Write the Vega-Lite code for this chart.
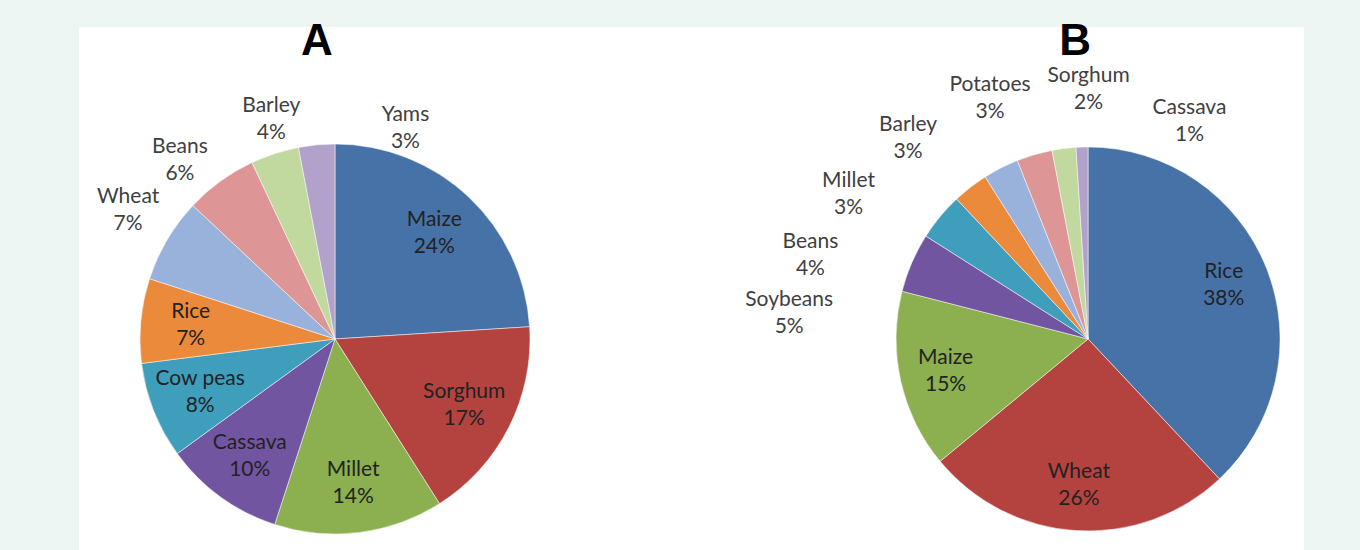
{
  "$schema": "https://vega.github.io/schema/vega-lite/v6.json",
  "padding": {"left": 79, "top": 19, "right": 56, "bottom": 0},
  "background": "#EDF6F2",
  "config": {"view": {"fill": "#FFFFFF", "stroke": null}, "text": {"font": "Lato"}},
  "data": {
    "values": [
      {"chart": "A", "crop": "Maize", "share": 0.24},
      {"chart": "A", "crop": "Sorghum", "share": 0.17},
      {"chart": "A", "crop": "Millet", "share": 0.14},
      {"chart": "A", "crop": "Cassava", "share": 0.10},
      {"chart": "A", "crop": "Cow peas", "share": 0.08},
      {"chart": "A", "crop": "Rice", "share": 0.07},
      {"chart": "A", "crop": "Wheat", "share": 0.07},
      {"chart": "A", "crop": "Beans", "share": 0.06},
      {"chart": "A", "crop": "Barley", "share": 0.04},
      {"chart": "A", "crop": "Yams", "share": 0.03},
      {"chart": "B", "crop": "Rice", "share": 0.38},
      {"chart": "B", "crop": "Wheat", "share": 0.26},
      {"chart": "B", "crop": "Maize", "share": 0.15},
      {"chart": "B", "crop": "Soybeans", "share": 0.05},
      {"chart": "B", "crop": "Beans", "share": 0.04},
      {"chart": "B", "crop": "Millet", "share": 0.03},
      {"chart": "B", "crop": "Barley", "share": 0.03},
      {"chart": "B", "crop": "Potatoes", "share": 0.03},
      {"chart": "B", "crop": "Sorghum", "share": 0.02},
      {"chart": "B", "crop": "Cassava", "share": 0.01}
    ]
  },
  "transform": [
    {"window": [{"op": "row_number", "as": "idx"}], "groupby": ["chart"]}
  ],
  "spacing": 0,
  "bounds": "flush",
  "hconcat": [
    {
      "width": 512,
      "height": 524,
      "transform": [{"filter": "datum.chart === 'A'"}],
      "encoding": {
        "y": {"datum": "pie", "type": "nominal", "axis": null, "scale": {"type": "point", "align": 0.5954}}
      },
      "layer": [
        {
          "mark": {"type": "arc", "radius": 195, "stroke": "#FFFFFF", "strokeWidth": 0.5},
          "encoding": {
            "theta": {"field": "share", "type": "quantitative", "stack": true, "scale": {"domain": [0, 1]}},
            "order": {"field": "idx", "type": "quantitative"},
            "color": {
              "field": "idx", "type": "ordinal", "legend": null,
              "scale": {"range": ["#4672A8", "#B4423F", "#8CAF4F", "#7255A0", "#3E9EBB", "#EC8A3C", "#98B2DC", "#DD9695", "#C1D89F", "#B2A2CB"]}
            }
          }
        },
        {
          "mark": {"type": "text", "radius": 145, "dy": -13, "fontSize": 21, "fill": "#222222"},
          "encoding": {
            "theta": {"field": "share", "type": "quantitative", "stack": true, "scale": {"domain": [0, 1]}},
            "order": {"field": "idx", "type": "quantitative"},
            "detail": {"field": "idx", "type": "ordinal"},
            "text": {"condition": {"test": "datum.idx <= 6", "field": "crop", "type": "nominal"}, "value": ""}
          }
        },
        {
          "mark": {"type": "text", "radius": 145, "dy": 14, "fontSize": 21, "fill": "#222222"},
          "encoding": {
            "theta": {"field": "share", "type": "quantitative", "stack": true, "scale": {"domain": [0, 1]}},
            "order": {"field": "idx", "type": "quantitative"},
            "detail": {"field": "idx", "type": "ordinal"},
            "text": {"condition": {"test": "datum.idx <= 6", "field": "share", "type": "quantitative", "format": ".0%"}, "value": ""}
          }
        },
        {
          "transform": [{"filter": "datum.idx >= 7"}],
          "mark": {"type": "text", "dy": -13, "fontSize": 21, "fill": "#404040"},
          "encoding": {
            "theta": {"field": "idx", "type": "quantitative", "stack": null, "scale": {"type": "pow", "exponent": 4, "domain": [7, 10], "range": [-1.0123, 0.3229]}},
            "radius": {"field": "idx", "type": "quantitative", "scale": {"type": "linear", "zero": false, "domain": [7, 10], "range": [244, 222]}},
            "text": {"field": "crop", "type": "nominal"}
          }
        },
        {
          "transform": [{"filter": "datum.idx >= 7"}],
          "mark": {"type": "text", "dy": 14, "fontSize": 21, "fill": "#404040"},
          "encoding": {
            "theta": {"field": "idx", "type": "quantitative", "stack": null, "scale": {"type": "pow", "exponent": 4, "domain": [7, 10], "range": [-1.0123, 0.3229]}},
            "radius": {"field": "idx", "type": "quantitative", "scale": {"type": "linear", "zero": false, "domain": [7, 10], "range": [244, 222]}},
            "text": {"field": "share", "type": "quantitative", "format": ".0%"}
          }
        },
        {
          "transform": [{"filter": "datum.idx === 1"}],
          "mark": {"type": "text", "radius": 297, "theta": 0, "dx": -18, "fontSize": 44, "font": "Liberation Sans", "fontWeight": "bold", "fill": "#000000"},
          "encoding": {"text": {"field": "chart", "type": "nominal"}}
        }
      ],
      "resolve": {"scale": {"theta": "independent"}}
    },
    {
      "width": 713,
      "height": 524,
      "transform": [{"filter": "datum.chart === 'B'"}],
      "encoding": {
        "x": {"datum": "pie", "type": "nominal", "axis": null, "scale": {"type": "point", "align": 0.6971}},
        "y": {"datum": "pie", "type": "nominal", "axis": null, "scale": {"type": "point", "align": 0.5954}}
      },
      "layer": [
        {
          "mark": {"type": "arc", "radius": 192, "stroke": "#FFFFFF", "strokeWidth": 0.5},
          "encoding": {
            "theta": {"field": "share", "type": "quantitative", "stack": true, "scale": {"domain": [0, 1]}},
            "order": {"field": "idx", "type": "quantitative"},
            "color": {
              "field": "idx", "type": "ordinal", "legend": null,
              "scale": {"range": ["#4672A8", "#B4423F", "#8CAF4F", "#7255A0", "#3E9EBB", "#EC8A3C", "#98B2DC", "#DD9695", "#C1D89F", "#B2A2CB"]}
            }
          }
        },
        {
          "mark": {"type": "text", "radius": 146, "dy": -13, "fontSize": 21, "fill": "#222222"},
          "encoding": {
            "theta": {"field": "share", "type": "quantitative", "stack": true, "scale": {"domain": [0, 1]}},
            "order": {"field": "idx", "type": "quantitative"},
            "detail": {"field": "idx", "type": "ordinal"},
            "text": {"condition": {"test": "datum.idx <= 3", "field": "crop", "type": "nominal"}, "value": ""}
          }
        },
        {
          "mark": {"type": "text", "radius": 146, "dy": 14, "fontSize": 21, "fill": "#222222"},
          "encoding": {
            "theta": {"field": "share", "type": "quantitative", "stack": true, "scale": {"domain": [0, 1]}},
            "order": {"field": "idx", "type": "quantitative"},
            "detail": {"field": "idx", "type": "ordinal"},
            "text": {"condition": {"test": "datum.idx <= 3", "field": "share", "type": "quantitative", "format": ".0%"}, "value": ""}
          }
        },
        {
          "transform": [{"filter": "datum.idx >= 4"}],
          "mark": {"type": "text", "dy": -13, "fontSize": 21, "fill": "#404040"},
          "encoding": {
            "theta": {"field": "idx", "type": "quantitative", "stack": null, "scale": {"type": "pow", "exponent": 2, "domain": [4, 10], "range": [-1.4835, 0.4363]}},
            "radius": {"field": "idx", "type": "quantitative", "scale": {"type": "linear", "zero": false, "domain": [4, 10], "range": [300, 240]}},
            "text": {"field": "crop", "type": "nominal"}
          }
        },
        {
          "transform": [{"filter": "datum.idx >= 4"}],
          "mark": {"type": "text", "dy": 14, "fontSize": 21, "fill": "#404040"},
          "encoding": {
            "theta": {"field": "idx", "type": "quantitative", "stack": null, "scale": {"type": "pow", "exponent": 2, "domain": [4, 10], "range": [-1.4835, 0.4363]}},
            "radius": {"field": "idx", "type": "quantitative", "scale": {"type": "linear", "zero": false, "domain": [4, 10], "range": [300, 240]}},
            "text": {"field": "share", "type": "quantitative", "format": ".0%"}
          }
        },
        {
          "transform": [{"filter": "datum.idx === 1"}],
          "mark": {"type": "text", "radius": 297, "theta": 0, "dx": -13, "fontSize": 44, "font": "Liberation Sans", "fontWeight": "bold", "fill": "#000000"},
          "encoding": {"text": {"field": "chart", "type": "nominal"}}
        }
      ],
      "resolve": {"scale": {"theta": "independent"}}
    }
  ]
}
